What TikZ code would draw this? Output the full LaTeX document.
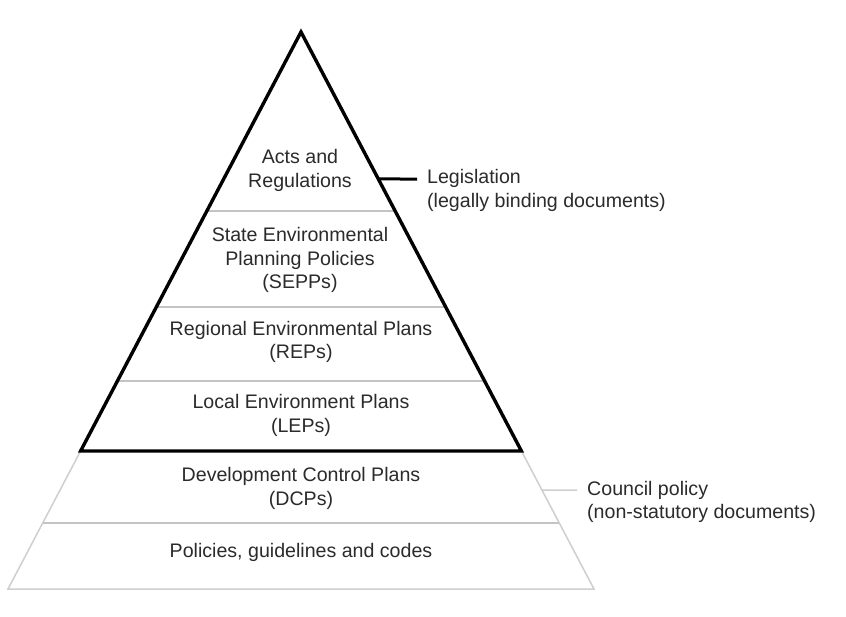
\documentclass[tikz,border=0pt]{standalone}
\usepackage{fontspec}
\setmainfont{Liberation Sans}
\usetikzlibrary{calc}
\definecolor{txt}{HTML}{2B2B2B}
\definecolor{sep}{HTML}{C4C4C4}
\definecolor{outl}{HTML}{CFCFCF}
\begin{document}
\begin{tikzpicture}[x=1pt,y=-1pt,
  lbl/.style={text=txt,align=center,inner sep=0pt,font=\fontsize{19.6}{23.5}\selectfont},
  side/.style={text=txt,align=left,anchor=west,inner sep=0pt,font=\fontsize{19.6}{23.5}\selectfont},
  sepline/.style={draw=sep,line width=1.3pt},
  thick/.style={draw=black,line width=3.4pt,line join=miter},
  light/.style={draw=outl,line width=1.5pt}]
\useasboundingbox[fill=white] (0,0) rectangle (846,616);
\coordinate (apex) at (301,32);
\coordinate (BL) at (8,589);
\coordinate (BR) at (594,589);
\coordinate (TL) at ($(apex)!0.7522!(BL)$);
\coordinate (TR) at ($(apex)!0.7522!(BR)$);
\coordinate (l1L) at ($(apex)!0.3214!(BL)$);
\coordinate (l1R) at ($(apex)!0.3214!(BR)$);
\coordinate (l2L) at ($(apex)!0.4937!(BL)$);
\coordinate (l2R) at ($(apex)!0.4937!(BR)$);
\coordinate (l3L) at ($(apex)!0.6266!(BL)$);
\coordinate (l3R) at ($(apex)!0.6266!(BR)$);
\coordinate (l4L) at ($(apex)!0.8815!(BL)$);
\coordinate (l4R) at ($(apex)!0.8815!(BR)$);
\coordinate (legE) at ($(apex)!0.2639!(BR)$);
\coordinate (legT) at (417,179);
\coordinate (couE) at ($(apex)!0.8223!(BR)$);
\coordinate (couT) at (577,490);
% lower trapezoid
\draw[light] (TL) -- (BL) -- (BR) -- (TR);
\draw[sepline] (l4L) -- (l4R);
\draw[sepline] (l1L) -- (l1R);
\draw[sepline] (l2L) -- (l2R);
\draw[sepline] (l3L) -- (l3R);
\draw[light] (couE) -- (couT);
\draw[draw=black,line width=3pt] (legE) -- (legT);
\draw[thick] (apex) -- (TL) -- (TR) -- cycle;
% labels
\node[lbl] (acts) at (300,170.5) {Acts and\\Regulations};
\node[lbl] (sepp) at (300,260) {State Environmental\\Planning Policies\\(SEPPs)};
\node[lbl] (rep) at (301,342) {Regional Environmental Plans\\(REPs)};
\node[lbl] (lep) at (301,415.5) {Local Environment Plans\\(LEPs)};
\node[lbl] (dcp) at (301,488.5) {Development Control Plans\\(DCPs)};
\node[lbl] (pol) at (301,552) {Policies, guidelines and codes};
\node[side] (leg) at (427,190.5) {Legislation\\(legally binding documents)};
\node[side] (cou) at (587,502) {Council policy\\(non-statutory documents)};
\end{tikzpicture}
\end{document}
